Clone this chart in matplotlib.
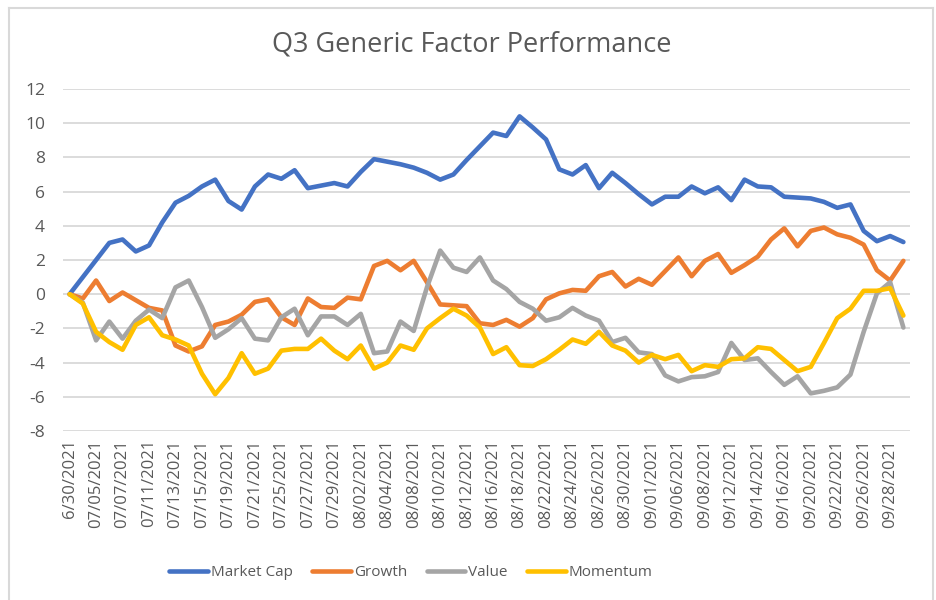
import matplotlib.pyplot as plt
from matplotlib.lines import Line2D

# cumulative factor performance, one value per trading day
market_cap = [0.0, 1.0, 2.0, 3.0, 3.2, 2.5, 2.85, 4.2, 5.35, 5.75,
              6.3, 6.7, 5.45, 4.95, 6.3, 7.0, 6.75, 7.25, 6.2, 6.35,
              6.5, 6.3, 7.15, 7.9, 7.75, 7.6, 7.4, 7.1, 6.7, 7.0,
              7.85, 8.65, 9.45, 9.25, 10.4, 9.75, 9.05, 7.3, 7.0, 7.55,
              6.2, 7.1, 6.5, 5.85, 5.25, 5.7, 5.7, 6.3, 5.9, 6.25,
              5.5, 6.7, 6.3, 6.25, 5.7, 5.65, 5.6, 5.4, 5.05, 5.25,
              3.7, 3.1, 3.4, 3.05]
growth = [0.0, -0.25, 0.8, -0.4, 0.1, -0.35, -0.8, -0.95, -3.0, -3.35,
          -3.05, -1.8, -1.6, -1.2, -0.45, -0.3, -1.35, -1.8, -0.25, -0.75,
          -0.8, -0.2, -0.3, 1.65, 1.95, 1.4, 1.95, 0.7, -0.6, -0.65,
          -0.7, -1.7, -1.8, -1.5, -1.9, -1.4, -0.3, 0.05, 0.25, 0.2,
          1.05, 1.3, 0.45, 0.9, 0.55, 1.35, 2.15, 1.05, 1.95, 2.35,
          1.25, 1.7, 2.2, 3.2, 3.85, 2.8, 3.7, 3.9, 3.5, 3.3,
          2.9, 1.4, 0.8, 1.95]
value = [0.0, -0.5, -2.7, -1.6, -2.6, -1.55, -0.9, -1.4, 0.4, 0.8,
         -0.75, -2.55, -2.05, -1.4, -2.6, -2.7, -1.35, -0.85, -2.4, -1.3,
         -1.3, -1.8, -1.15, -3.45, -3.35, -1.6, -2.15, 0.4, 2.55, 1.55,
         1.3, 2.15, 0.8, 0.3, -0.45, -0.85, -1.55, -1.35, -0.8, -1.25,
         -1.55, -2.8, -2.55, -3.4, -3.5, -4.75, -5.1, -4.85, -4.8, -4.55,
         -2.85, -3.85, -3.75, -4.55, -5.3, -4.8, -5.8, -5.65, -5.45, -4.7,
         -2.2, 0.05, 0.7, -1.95]
momentum = [0.0, -0.55, -2.2, -2.8, -3.25, -1.8, -1.35, -2.4, -2.65, -3.0,
            -4.65, -5.85, -4.9, -3.45, -4.65, -4.35, -3.3, -3.2, -3.2, -2.6,
            -3.3, -3.8, -3.0, -4.35, -4.0, -3.0, -3.25, -2.0, -1.4, -0.85,
            -1.25, -1.95, -3.5, -3.1, -4.15, -4.2, -3.8, -3.25, -2.65, -2.9,
            -2.2, -3.0, -3.3, -4.0, -3.55, -3.8, -3.55, -4.5, -4.15, -4.25,
            -3.8, -3.75, -3.1, -3.2, -3.85, -4.5, -4.25, -2.85, -1.4, -0.85,
            0.2, 0.2, 0.35, -1.25]

# only every second date is labelled on the axis
date_labels = ['6/30/2021', '07/05/2021', '07/07/2021', '07/11/2021', '07/13/2021',
               '07/15/2021', '07/19/2021', '07/21/2021', '07/25/2021', '07/27/2021',
               '07/29/2021', '08/02/2021', '08/04/2021', '08/08/2021', '08/10/2021',
               '08/12/2021', '08/16/2021', '08/18/2021', '08/22/2021', '08/24/2021',
               '08/26/2021', '08/30/2021', '09/01/2021', '09/06/2021', '09/08/2021',
               '09/12/2021', '09/14/2021', '09/16/2021', '09/20/2021', '09/22/2021',
               '09/26/2021', '09/28/2021']
y_ticks = [12, 10, 8, 6, 4, 2, 0, -2, -4, -6, -8]

series = [('Market Cap', market_cap, '#4472C4'),
          ('Growth', growth, '#ED7D31'),
          ('Value', value, '#A5A5A5'),
          ('Momentum', momentum, '#FFC000')]

text_color = '#595959'
grid_color = '#D9D9D9'
plt.rcParams['font.family'] = ['Open Sans', 'DejaVu Sans']

fig = plt.figure(figsize=(9.36, 6), dpi=100)
ax = fig.add_axes([63 / 936, 1 - 431 / 600, 847 / 936, 342 / 600])

n = len(market_cap)
x = list(range(n))
for name, vals, color in series:
    ax.plot(x, vals, color=color, lw=3.3, label=name, solid_capstyle='round',
            solid_joinstyle='round')

ax.set_xlim(-0.5, n - 0.5)
ax.set_ylim(-8, 12)
ax.set_yticks(y_ticks)
ax.set_yticklabels([str(t) for t in y_ticks])
ax.set_xticks(list(range(0, n, 2)))
ax.set_xticklabels(date_labels, rotation=90)
ax.tick_params(axis='both', length=0, colors=text_color)
ax.tick_params(axis='y', pad=13, labelsize=12.5)
ax.tick_params(axis='x', pad=6, labelsize=12)
ax.yaxis.grid(True, color=grid_color, lw=1.3)
ax.set_axisbelow(True)
for side in ['top', 'right', 'left', 'bottom']:
    ax.spines[side].set_visible(False)

fig.text(472 / 936, 1 - 45 / 600, 'Q3 Generic Factor Performance', ha='center',
         va='center', fontsize=19.5, color=text_color)

leg = fig.legend(loc='center', bbox_to_anchor=(411 / 936, 1 - 573 / 600), ncol=4,
                 frameon=False, fontsize=11, handlelength=2.5, handletextpad=0.2,
                 columnspacing=1.3)
for t in leg.get_texts():
    t.set_color(text_color)

# chart area border
bx = dict(color=grid_color, lw=1.5, transform=fig.transFigure)
fig.add_artist(Line2D([9 / 936, 933 / 936], [1 - 8 / 600, 1 - 8 / 600], **bx))
fig.add_artist(Line2D([9 / 936, 9 / 936], [1 - 8 / 600, 0], **bx))
fig.add_artist(Line2D([933 / 936, 933 / 936], [1 - 8 / 600, 0], **bx))

fig.savefig('out.png', dpi=100)
